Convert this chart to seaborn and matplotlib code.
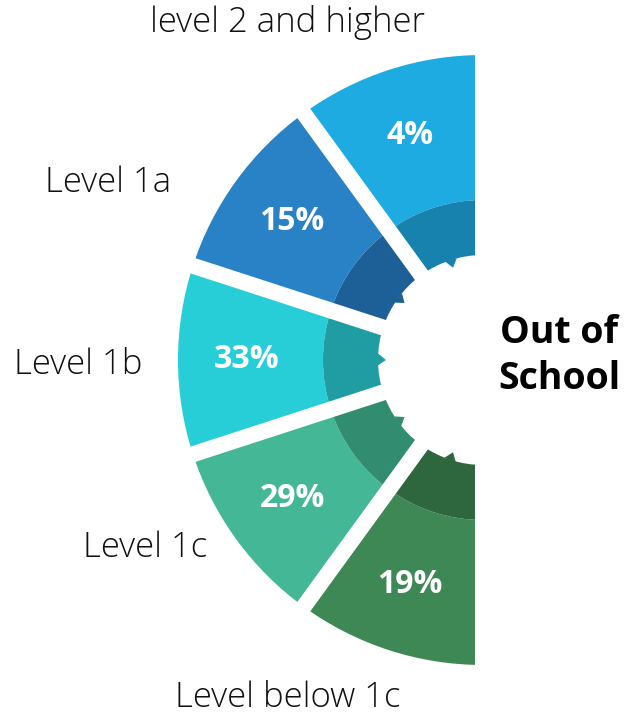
import numpy as np
import matplotlib
matplotlib.use("Agg")
import matplotlib.pyplot as plt
from matplotlib.patches import Polygon
import seaborn as sns

# data
categories = ["level 2 and higher", "Level 1a", "Level 1b", "Level 1c", "Level below 1c"]
shares = [4, 15, 33, 29, 19]
outer_colors = ["#1EABE1", "#2981C6", "#27CED8", "#44B896", "#3D8855"]
inner_colors = ["#1782AE", "#1D6097", "#1F9DA2", "#318C70", "#2E663E"]
center_label = "Out of\nSchool"

# layout (pixels, y measured upward)
W, H = 640, 720
CX, CY = 483, 360
R_OUT, R_MID, R_IN = 305, 160, 105
GAP_PX = 16
label_pos = [(288, 698), (108, 537), (78, 355), (145, 172), (288, 22)]

sns.set_theme(style="white")
plt.rcParams["font.family"] = ["Open Sans", "DejaVu Sans"]

fig = plt.figure(figsize=(W / 100, H / 100), dpi=100)
ax = fig.add_axes([0, 0, 1, 1])

n = len(categories)
# equal slices for each band, plus a hidden half on the right
sizes = [1] * n + [n]
ax.pie(sizes, radius=R_OUT, center=(CX, CY), startangle=90, counterclock=True,
       colors=outer_colors + ["none"], wedgeprops=dict(width=R_OUT - R_MID, linewidth=0),
       frame=True)
ax.pie(sizes, radius=R_MID, center=(CX, CY), startangle=90, counterclock=True,
       colors=inner_colors + ["none"], wedgeprops=dict(width=R_MID - R_IN, linewidth=0),
       frame=True)
ax.set_xlim(0, W)
ax.set_ylim(0, H)
ax.set_aspect("equal")
ax.axis("off")

step = 180 / n
gap_pt = GAP_PX * 72 / 100

# small notches on the inner edge
for i in range(n):
    a = np.deg2rad(90 + step * (i + 0.5))
    da = np.deg2rad(3.5)
    pts = [
        (CX + R_IN * np.cos(a - da), CY + R_IN * np.sin(a - da)),
        (CX + (R_IN - 8) * np.cos(a), CY + (R_IN - 8) * np.sin(a)),
        (CX + (R_IN + 2) * np.cos(a + da), CY + (R_IN + 2) * np.sin(a + da)),
    ]
    ax.add_patch(Polygon(pts, closed=True, color=inner_colors[i], lw=0))

# white gaps between slices
for k in range(n + 1):
    a = np.deg2rad(90 + step * k)
    ax.plot([CX, CX + (R_OUT + 20) * np.cos(a)], [CY, CY + (R_OUT + 20) * np.sin(a)],
            color="white", lw=gap_pt, solid_capstyle="butt")

# percentage labels
for i, v in enumerate(shares):
    a = np.deg2rad(90 + step * (i + 0.5))
    ax.text(CX + 236 * np.cos(a), CY + 236 * np.sin(a), f"{v}%", color="white",
            fontsize=23, fontweight="bold", ha="center", va="center")

# category labels
for (x, y), name in zip(label_pos, categories):
    ax.text(x, y, name, fontsize=25, fontweight="light", color="#111111",
            ha="center", va="center")

ax.text(559, 364, center_label, fontsize=27, fontweight="bold", color="black",
        ha="center", va="center", linespacing=1.25)

fig.savefig("out.png", dpi=100)
